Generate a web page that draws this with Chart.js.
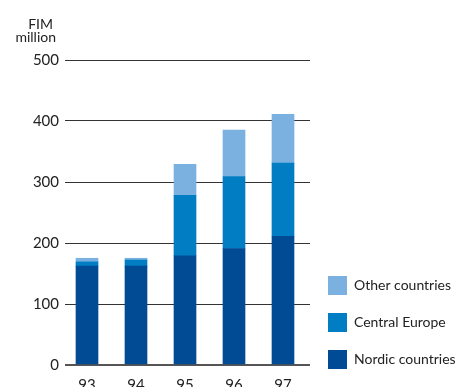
<!DOCTYPE html>
<html>
<head>
<meta charset="utf-8">
<script src="https://cdn.jsdelivr.net/npm/chart.js@4"></script>
<style>
html,body{margin:0;padding:0;background:#fff;}
#wrap{width:465px;height:387px;position:relative;}
</style>
</head>
<body>
<div id="wrap"><canvas id="c" width="465" height="387"></canvas></div>
<script>
const categories = ['93', '94', '95', '96', '97'];
const nordic = [162, 162, 179, 191, 211];
const central = [7, 10, 99, 118, 120];
const other = [6, 3, 51, 76, 80];
const yTicks = [0, 100, 200, 300, 400, 500];
const unitLines = ['FIM', 'million'];

const xs = categories.map(Number);
const toPts = arr => arr.map((v, i) => ({x: xs[i], y: v}));

const unitPlugin = {
  id: 'unit',
  afterDraw(chart) {
    const ctx = chart.ctx;
    ctx.save();
    ctx.font = '14px Lato';
    ctx.fillStyle = '#222';
    ctx.textAlign = 'right';
    ctx.textBaseline = 'alphabetic';
    ctx.fillText(unitLines[0], 53, 29);
    ctx.fillText(unitLines[1], 56, 42);
    ctx.restore();
  }
};

new Chart(document.getElementById('c'), {
  type: 'bar',
  data: {
    datasets: [
      {label: 'Nordic countries', data: toPts(nordic), backgroundColor: '#004b93'},
      {label: 'Central Europe', data: toPts(central), backgroundColor: '#007dc3'},
      {label: 'Other countries', data: toPts(other), backgroundColor: '#7ab1e0'}
    ]
  },
  options: {
    responsive: false,
    animation: false,
    devicePixelRatio: 1,
    layout: {padding: {top: 60, left: 0, right: 0, bottom: 0}},
    datasets: {bar: {barThickness: 22, borderWidth: 0}},
    scales: {
      x: {
        type: 'linear',
        stacked: true,
        offset: false,
        min: 92.551,
        max: 97.551,
        grid: {display: false},
        border: {display: false},
        afterBuildTicks: s => { s.ticks = xs.map(v => ({value: v})); },
        afterFit: s => { s.height = 22; },
        ticks: {
          padding: 3,
          color: '#222',
          font: {family: 'Lato', size: 15},
          callback: v => categories[xs.indexOf(v)] ?? ''
        }
      },
      y: {
        stacked: true,
        min: 0,
        max: 500,
        afterBuildTicks: s => { s.ticks = yTicks.map(v => ({value: v})); },
        afterFit: s => { s.width = 65; },
        border: {display: false},
        grid: {
          drawTicks: false,
          color: ctx => ctx.tick && ctx.tick.value === 0 ? '#555' : '#333',
          lineWidth: ctx => ctx.tick && ctx.tick.value === 0 ? 2 : 1
        },
        ticks: {
          padding: 6,
          color: '#222',
          font: {family: 'Lato', size: 15}
        }
      }
    },
    plugins: {
      tooltip: {enabled: false},
      legend: {
        position: 'right',
        align: 'end',
        reverse: true,
        maxWidth: 155,
        labels: {
          boxWidth: 19,
          boxHeight: 19,
          padding: 18,
          color: '#222',
          font: {family: 'Lato', size: 14}
        }
      }
    }
  },
  plugins: [unitPlugin]
});
</script>
</body>
</html>
